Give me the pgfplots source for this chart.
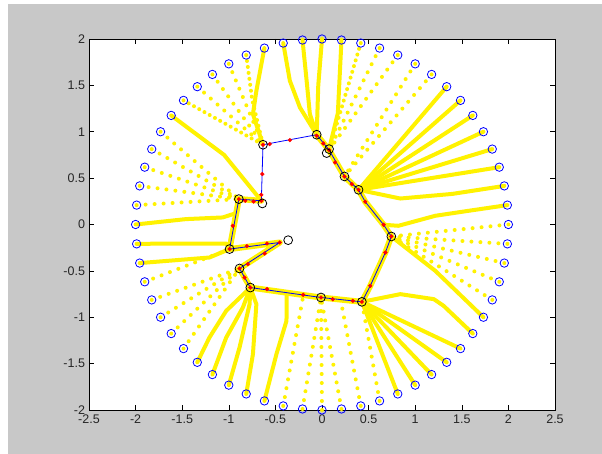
\documentclass[border=0pt]{standalone}
\usepackage{fontspec}
\setmainfont{Liberation Sans}
\usepackage{pgfplots}
\pgfplotsset{compat=1.18}
\definecolor{figgray}{RGB}{200,200,200}
\begin{document}
\begin{tikzpicture}
\fill[white] (0,0) rectangle (602pt,454pt);
\fill[figgray] (8pt,0) rectangle (602pt,450pt);
\begin{axis}[
  at={(89pt,44pt)}, anchor=south west,
  scale only axis, width=466pt, height=371pt,
  xmin=-2.5, xmax=2.5, ymin=-2, ymax=2,
  axis background/.style={fill=white},
  clip=false,
  xtick={-2.5,-2,-1.5,-1,-0.5,0,0.5,1,1.5,2,2.5},
  xticklabels={-2.5,-2,-1.5,-1,-0.5,0,0.5,1,1.5,2,2.5},
  ytick={-2,-1.5,-1,-0.5,0,0.5,1,1.5,2},
  yticklabels={-2,-1.5,-1,-0.5,0,0.5,1,1.5,2},
  tick align=inside, major tick length=5pt,
  tick style={black, line width=0.6pt},
  axis line style={line width=0.8pt},
  ticklabel style={font=\fontsize{12.5}{14}\selectfont, text=black!85},
  xticklabel style={yshift=-1.5pt},
  yticklabel style={xshift=-0.5pt},
  dense/.style={yellow, line width=4pt, line cap=round, line join=round, no markers},
  medium/.style={yellow, line width=4pt, line cap=round, dash pattern=on 0pt off 6pt, no markers},
  sparse/.style={yellow, line width=4pt, line cap=round, dash pattern=on 0pt off 9pt, no markers},
]
% yellow band along the polygon
\addplot[yellow, line width=6pt, line cap=round, line join=round, no markers] coordinates {
(-0.057,0.968) (0.076,0.803) (0.241,0.518) (0.392,0.374) (0.464,0.245) (0.661,-0.003) (0.744,-0.129)
(0.680,-0.302) (0.518,-0.661) (0.428,-0.834) (-0.011,-0.787) (-0.769,-0.680) (-0.885,-0.474)
(-0.453,-0.194) (-0.992,-0.265) (-0.892,0.274) (-0.651,0.256)};
% trajectories, upper right
\addplot[sparse] coordinates {(2.000,0.000) (0.744,-0.129)};
\addplot[dense] coordinates {(1.989,0.209) (1.575,0.148) (1.216,0.094) (0.82,-0.014) (0.661,-0.003)};
\addplot[dense] coordinates {(1.956,0.416) (1.4,0.33) (0.84,0.28) (0.392,0.374)};
\addplot[dense] coordinates {(1.902,0.618) (0.392,0.374)};
\addplot[dense] coordinates {(1.827,0.813) (0.392,0.374)};
\addplot[dense] coordinates {(1.732,1.000) (0.392,0.374)};
\addplot[dense] coordinates {(1.618,1.176) (0.392,0.374)};
\addplot[dense] coordinates {(1.486,1.338) (0.392,0.374)};
\addplot[dense] coordinates {(1.338,1.486) (0.392,0.374)};
\addplot[sparse] coordinates {(1.176,1.618) (0.241,0.518)};
\addplot[sparse] coordinates {(1.000,1.732) (0.241,0.518)};
\addplot[sparse] coordinates {(0.813,1.827) (0.076,0.803)};
\addplot[sparse] coordinates {(0.618,1.902) (0.076,0.803)};
\addplot[medium] coordinates {(0.416,1.956) (0.076,0.803)};
\addplot[dense] coordinates {(0.209,1.989) (0.17,1.2) (0.076,0.813)};
\addplot[dense] coordinates {(0.000,2.000) (-0.04,1.5) (-0.057,0.968)};
% upper left
\addplot[dense] coordinates {(-0.209,1.989) (-0.165,1.55) (-0.13,1.19) (-0.057,0.968)};
\addplot[dense] coordinates {(-0.416,1.956) (-0.345,1.55) (-0.237,1.262) (-0.057,0.968)};
\addplot[dense] coordinates {(-0.618,1.902) (-0.704,1.442) (-0.741,1.19) (-0.633,0.860)};
\addplot[medium] coordinates {(-0.813,1.827) (-0.75,1.35) (-0.633,0.860)};
\addplot[sparse] coordinates {(-1.000,1.732) (-0.633,0.860)};
\addplot[sparse] coordinates {(-1.176,1.618) (-0.633,0.860)};
\addplot[sparse] coordinates {(-1.338,1.486) (-0.633,0.860)};
\addplot[medium] coordinates {(-1.486,1.338) (-0.633,0.860)};
\addplot[dense] coordinates {(-1.618,1.176) (-1.05,0.75) (-0.651,0.256)};
\addplot[sparse] coordinates {(-1.732,1.000) (-0.892,0.274)};
\addplot[sparse] coordinates {(-1.827,0.813) (-0.892,0.274)};
\addplot[sparse] coordinates {(-1.902,0.618) (-0.892,0.274)};
\addplot[sparse] coordinates {(-1.956,0.416) (-0.892,0.274)};
\addplot[sparse] coordinates {(-1.989,0.209) (-0.892,0.274)};
\addplot[dense] coordinates {(-2.000,0.000) (-1.46,0.058) (-1.065,0.076) (-0.93,0.12)};
% lower left
\addplot[dense] coordinates {(-1.989,-0.209) (-1.567,-0.205) (-1.028,-0.205) (-0.992,-0.265)};
\addplot[dense] coordinates {(-1.956,-0.416) (-1.208,-0.356) (-0.992,-0.265)};
\addplot[sparse] coordinates {(-1.902,-0.618) (-0.992,-0.265)};
\addplot[sparse] coordinates {(-1.827,-0.813) (-0.885,-0.474)};
\addplot[sparse] coordinates {(-1.732,-1.000) (-0.885,-0.474)};
\addplot[sparse] coordinates {(-1.618,-1.176) (-0.885,-0.474)};
\addplot[sparse] coordinates {(-1.486,-1.338) (-0.885,-0.474)};
\addplot[dense] coordinates {(-1.338,-1.486) (-1.208,-1.219) (-1.028,-0.931) (-0.769,-0.680)};
\addplot[dense] coordinates {(-1.176,-1.618) (-1.028,-1.219) (-0.849,-0.895) (-0.769,-0.680)};
\addplot[dense] coordinates {(-1.000,-1.732) (-0.885,-1.327) (-0.777,-0.859) (-0.769,-0.680)};
\addplot[dense] coordinates {(-0.813,-1.827) (-0.741,-1.398) (-0.704,-0.859) (-0.769,-0.680)};
\addplot[dense] coordinates {(-0.618,-1.902) (-0.489,-1.398) (-0.381,-1.039) (-0.38,-0.73)};
\addplot[sparse] coordinates {(-0.416,-1.956) (-0.2,-0.76)};
\addplot[sparse] coordinates {(-0.209,-1.989) (-0.011,-0.787)};
\addplot[sparse] coordinates {(0.000,-2.000) (-0.011,-0.787)};
% lower right
\addplot[sparse] coordinates {(0.209,-1.989) (-0.011,-0.787)};
\addplot[sparse] coordinates {(0.416,-1.956) (0.2,-0.81)};
\addplot[sparse] coordinates {(0.618,-1.902) (0.428,-0.834)};
\addplot[dense] coordinates {(0.813,-1.827) (0.428,-0.834)};
\addplot[dense] coordinates {(1.000,-1.732) (0.428,-0.834)};
\addplot[dense] coordinates {(1.176,-1.618) (0.428,-0.834)};
\addplot[dense] coordinates {(1.338,-1.486) (0.428,-0.834)};
\addplot[dense] coordinates {(1.486,-1.338) (0.428,-0.834)};
\addplot[dense] coordinates {(1.618,-1.176) (1.305,-0.877) (1.2,-0.805) (0.841,-0.751) (0.428,-0.834)};
\addplot[dense] coordinates {(1.732,-1.000) (1.216,-0.5) (0.744,-0.129)};
\addplot[sparse] coordinates {(1.827,-0.813) (0.744,-0.129)};
\addplot[sparse] coordinates {(1.902,-0.618) (0.744,-0.129)};
\addplot[sparse] coordinates {(1.956,-0.416) (0.744,-0.129)};
\addplot[sparse] coordinates {(1.989,-0.209) (0.744,-0.129)};
% blue circles on radius 2
\addplot[only marks, mark=o, blue, mark size=4.2pt, mark options={line width=0.8pt}] coordinates {
(2.000,0.000) (1.989,0.209) (1.956,0.416) (1.902,0.618) (1.827,0.813) (1.732,1.000)
(1.618,1.176) (1.486,1.338) (1.338,1.486) (1.176,1.618) (1.000,1.732) (0.813,1.827)
(0.618,1.902) (0.416,1.956) (0.209,1.989) (0.000,2.000) (-0.209,1.989) (-0.416,1.956)
(-0.618,1.902) (-0.813,1.827) (-1.000,1.732) (-1.176,1.618) (-1.338,1.486) (-1.486,1.338)
(-1.618,1.176) (-1.732,1.000) (-1.827,0.813) (-1.902,0.618) (-1.956,0.416) (-1.989,0.209)
(-2.000,0.000) (-1.989,-0.209) (-1.956,-0.416) (-1.902,-0.618) (-1.827,-0.813) (-1.732,-1.000)
(-1.618,-1.176) (-1.486,-1.338) (-1.338,-1.486) (-1.176,-1.618) (-1.000,-1.732) (-0.813,-1.827)
(-0.618,-1.902) (-0.416,-1.956) (-0.209,-1.989) (0.000,-2.000) (0.209,-1.989) (0.416,-1.956)
(0.618,-1.902) (0.813,-1.827) (1.000,-1.732) (1.176,-1.618) (1.338,-1.486) (1.486,-1.338)
(1.618,-1.176) (1.732,-1.000) (1.827,-0.813) (1.902,-0.618) (1.956,-0.416) (1.989,-0.209)};
% polygon
\addplot[blue, line width=0.8pt, no markers] coordinates {
(-0.633,0.860) (-0.057,0.968) (0.076,0.803) (0.241,0.518) (0.392,0.374) (0.464,0.245)
(0.661,-0.003) (0.744,-0.129) (0.680,-0.302) (0.518,-0.661) (0.428,-0.834) (-0.011,-0.787)
(-0.769,-0.680) (-0.885,-0.474) (-0.453,-0.194) (-0.992,-0.265) (-0.892,0.274) (-0.651,0.256)
(-0.633,0.860)};
% red points on polygon
\addplot[only marks, mark=*, red, mark size=1.9pt] coordinates {
(-0.633,0.860) (-0.561,0.867) (-0.345,0.910) (-0.057,0.957) (0.014,0.874) (0.076,0.803)
(0.140,0.669) (0.241,0.518) (0.320,0.436) (0.392,0.374) (0.464,0.245) (0.661,-0.003)
(0.744,-0.129) (0.680,-0.302) (0.518,-0.661) (0.428,-0.834) (0.331,-0.823) (0.115,-0.805)
(-0.011,-0.787) (-0.202,-0.758) (-0.590,-0.697) (-0.769,-0.680) (-0.831,-0.572) (-0.885,-0.474)
(-0.795,-0.427) (-0.615,-0.313) (-0.453,-0.194) (-0.590,-0.205) (-0.806,-0.233) (-0.992,-0.265)
(-0.957,-0.014) (-0.892,0.274) (-0.823,0.256) (-0.734,0.248) (-0.651,0.256) (-0.651,0.320)
(-0.640,0.544)};
% black circles
\addplot[only marks, mark=o, black, mark size=4.4pt, mark options={line width=0.8pt}] coordinates {
(-0.633,0.860) (-0.057,0.968) (0.076,0.813) (0.050,0.770) (0.241,0.518) (0.392,0.374)
(0.744,-0.129) (0.428,-0.834) (-0.011,-0.787) (-0.769,-0.680) (-0.885,-0.474) (-0.363,-0.169)
(-0.992,-0.265) (-0.892,0.274) (-0.640,0.227)};
\end{axis}
\end{tikzpicture}
\end{document}
